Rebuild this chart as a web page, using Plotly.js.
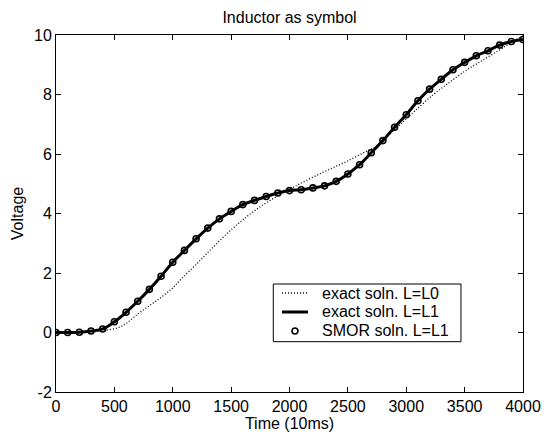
<!DOCTYPE html>
<html>
<head>
<meta charset="utf-8">
<script src="https://cdn.plot.ly/plotly-3.0.1.min.js"></script>
<style>html,body{margin:0;padding:0;background:#fff;}#chart{width:546px;height:435px;}</style>
</head>
<body>
<div id="chart"></div>
<script>
// Time samples (10ms) of the L=L1 solution (exact and SMOR)
var timeL1 = [0, 100, 200, 300, 400, 500, 600, 700, 800, 900, 1000, 1100, 1200, 1300, 1400, 1500, 1600, 1700, 1800, 1900, 2000, 2100, 2200, 2300, 2400, 2500, 2600, 2700, 2800, 2900, 3000, 3100, 3200, 3300, 3400, 3500, 3600, 3700, 3800, 3900, 4000];
var exactL1 = [0.00, 0.00, 0.01, 0.05, 0.12, 0.36, 0.68, 1.05, 1.45, 1.89, 2.36, 2.76, 3.15, 3.51, 3.82, 4.07, 4.30, 4.44, 4.57, 4.69, 4.77, 4.80, 4.86, 4.93, 5.08, 5.33, 5.64, 6.04, 6.45, 6.90, 7.32, 7.79, 8.18, 8.51, 8.83, 9.08, 9.30, 9.47, 9.66, 9.78, 9.85];
var smorL1 = [0.00, 0.00, 0.01, 0.05, 0.12, 0.36, 0.68, 1.05, 1.45, 1.89, 2.36, 2.76, 3.15, 3.51, 3.82, 4.07, 4.30, 4.44, 4.57, 4.69, 4.77, 4.80, 4.86, 4.93, 5.08, 5.33, 5.64, 6.04, 6.45, 6.90, 7.32, 7.79, 8.18, 8.51, 8.83, 9.08, 9.30, 9.47, 9.66, 9.78, 9.85];
// Exact solution for L=L0
var timeL0 = [0, 200, 300, 400, 530, 600, 700, 800, 900, 1000, 1074, 1216, 1359, 1503, 1602, 1731, 1880, 2045, 2274, 2474, 2674, 2750, 2900, 3000, 3075, 3232, 3350, 3500, 3632, 3800, 3900, 4000];
var exactL0 = [0.00, 0.00, 0.02, 0.06, 0.16, 0.30, 0.62, 0.90, 1.18, 1.50, 1.80, 2.35, 2.92, 3.46, 3.79, 4.18, 4.55, 4.91, 5.36, 5.72, 6.12, 6.28, 6.82, 7.18, 7.45, 8.00, 8.35, 8.78, 9.10, 9.50, 9.75, 9.97];
var xTicks = [0, 500, 1000, 1500, 2000, 2500, 3000, 3500, 4000];
var yTicks = [-2, 0, 2, 4, 6, 8, 10];
var yTickText = ['-2', '0', '2', '4', '6', '8', '10'];
var legendLabels = ['exact soln. L=L0', 'exact soln. L=L1', 'SMOR soln. L=L1'];

var FONT = 'Liberation Sans, Arial, Helvetica, sans-serif';
var BLACK = '#000';

var traces = [
  {x: timeL0, y: exactL0, mode: 'lines', name: legendLabels[0],
   line: {color: BLACK, width: 1.3, dash: '1px,2px', shape: 'spline'}},
  {x: timeL1, y: exactL1, mode: 'lines', name: legendLabels[1],
   line: {color: BLACK, width: 3, shape: 'spline'}},
  {x: timeL1, y: smorL1, mode: 'markers', name: legendLabels[2],
   marker: {symbol: 'circle-open', size: 6, color: BLACK, line: {width: 1.6, color: BLACK}}}
];

var axisCommon = {
  showline: true, linecolor: BLACK, linewidth: 1, mirror: 'ticks',
  ticks: 'inside', ticklen: 5, tickwidth: 1, tickcolor: BLACK,
  showgrid: false, zeroline: false,
  tickfont: {family: FONT, size: 16, color: BLACK}
};

// Hand-built legend (box, samples, labels) in paper coordinates
var L = {x0: 0.4653, x1: 0.8672, yTop: 0.3025, yBot: 0.1409,
         rows: [0.2773, 0.2241, 0.1709], sx0: 0.4839, sx1: 0.5396, sxc: 0.5118, tx: 0.5653};
var shapes = [
  {type: 'rect', xref: 'paper', yref: 'paper', x0: L.x0, x1: L.x1, y0: L.yBot, y1: L.yTop,
   line: {color: BLACK, width: 1}, fillcolor: '#fff', layer: 'above'},
  {type: 'line', xref: 'paper', yref: 'paper', x0: L.sx0, x1: L.sx1, y0: L.rows[0], y1: L.rows[0],
   line: {color: BLACK, width: 1.3, dash: '1px,2px'}, layer: 'above'},
  {type: 'line', xref: 'paper', yref: 'paper', x0: L.sx0, x1: L.sx1, y0: L.rows[1], y1: L.rows[1],
   line: {color: BLACK, width: 3}, layer: 'above'},
  {type: 'circle', xref: 'paper', yref: 'paper', x0: L.sxc - 0.0064, x1: L.sxc + 0.0064,
   y0: L.rows[2] - 0.0084, y1: L.rows[2] + 0.0084,
   line: {color: BLACK, width: 1.6}, fillcolor: 'rgba(0,0,0,0)', layer: 'above'}
];
var annotations = legendLabels.map(function (t, i) {
  return {text: t, xref: 'paper', yref: 'paper', x: L.tx, y: L.rows[i],
          xanchor: 'left', yanchor: 'middle', showarrow: false,
          font: {family: FONT, size: 16, color: BLACK}};
});

var layout = {
  width: 546, height: 435,
  margin: {l: 56, r: 23, t: 35, b: 43, pad: 0},
  paper_bgcolor: '#fff', plot_bgcolor: '#fff',
  font: {family: FONT, size: 16, color: BLACK},
  title: {text: 'Inductor as symbol', font: {family: FONT, size: 16, color: BLACK},
          x: 0.5303, xanchor: 'center', y: 0.96, yanchor: 'middle'},
  xaxis: Object.assign({}, axisCommon, {
    range: [0, 4000], tickvals: xTicks, ticktext: xTicks.map(String),
    title: {text: 'Time (10ms)', font: {family: FONT, size: 16, color: BLACK}, standoff: 0}
  }),
  yaxis: Object.assign({}, axisCommon, {
    range: [-2, 10], tickvals: yTicks, ticktext: yTickText,
    title: {text: 'Voltage', font: {family: FONT, size: 16, color: BLACK}, standoff: 6}
  }),
  showlegend: false,
  shapes: shapes,
  annotations: annotations
};

Plotly.newPlot('chart', traces, layout, {displayModeBar: false, staticPlot: true});
</script>
</body>
</html>
